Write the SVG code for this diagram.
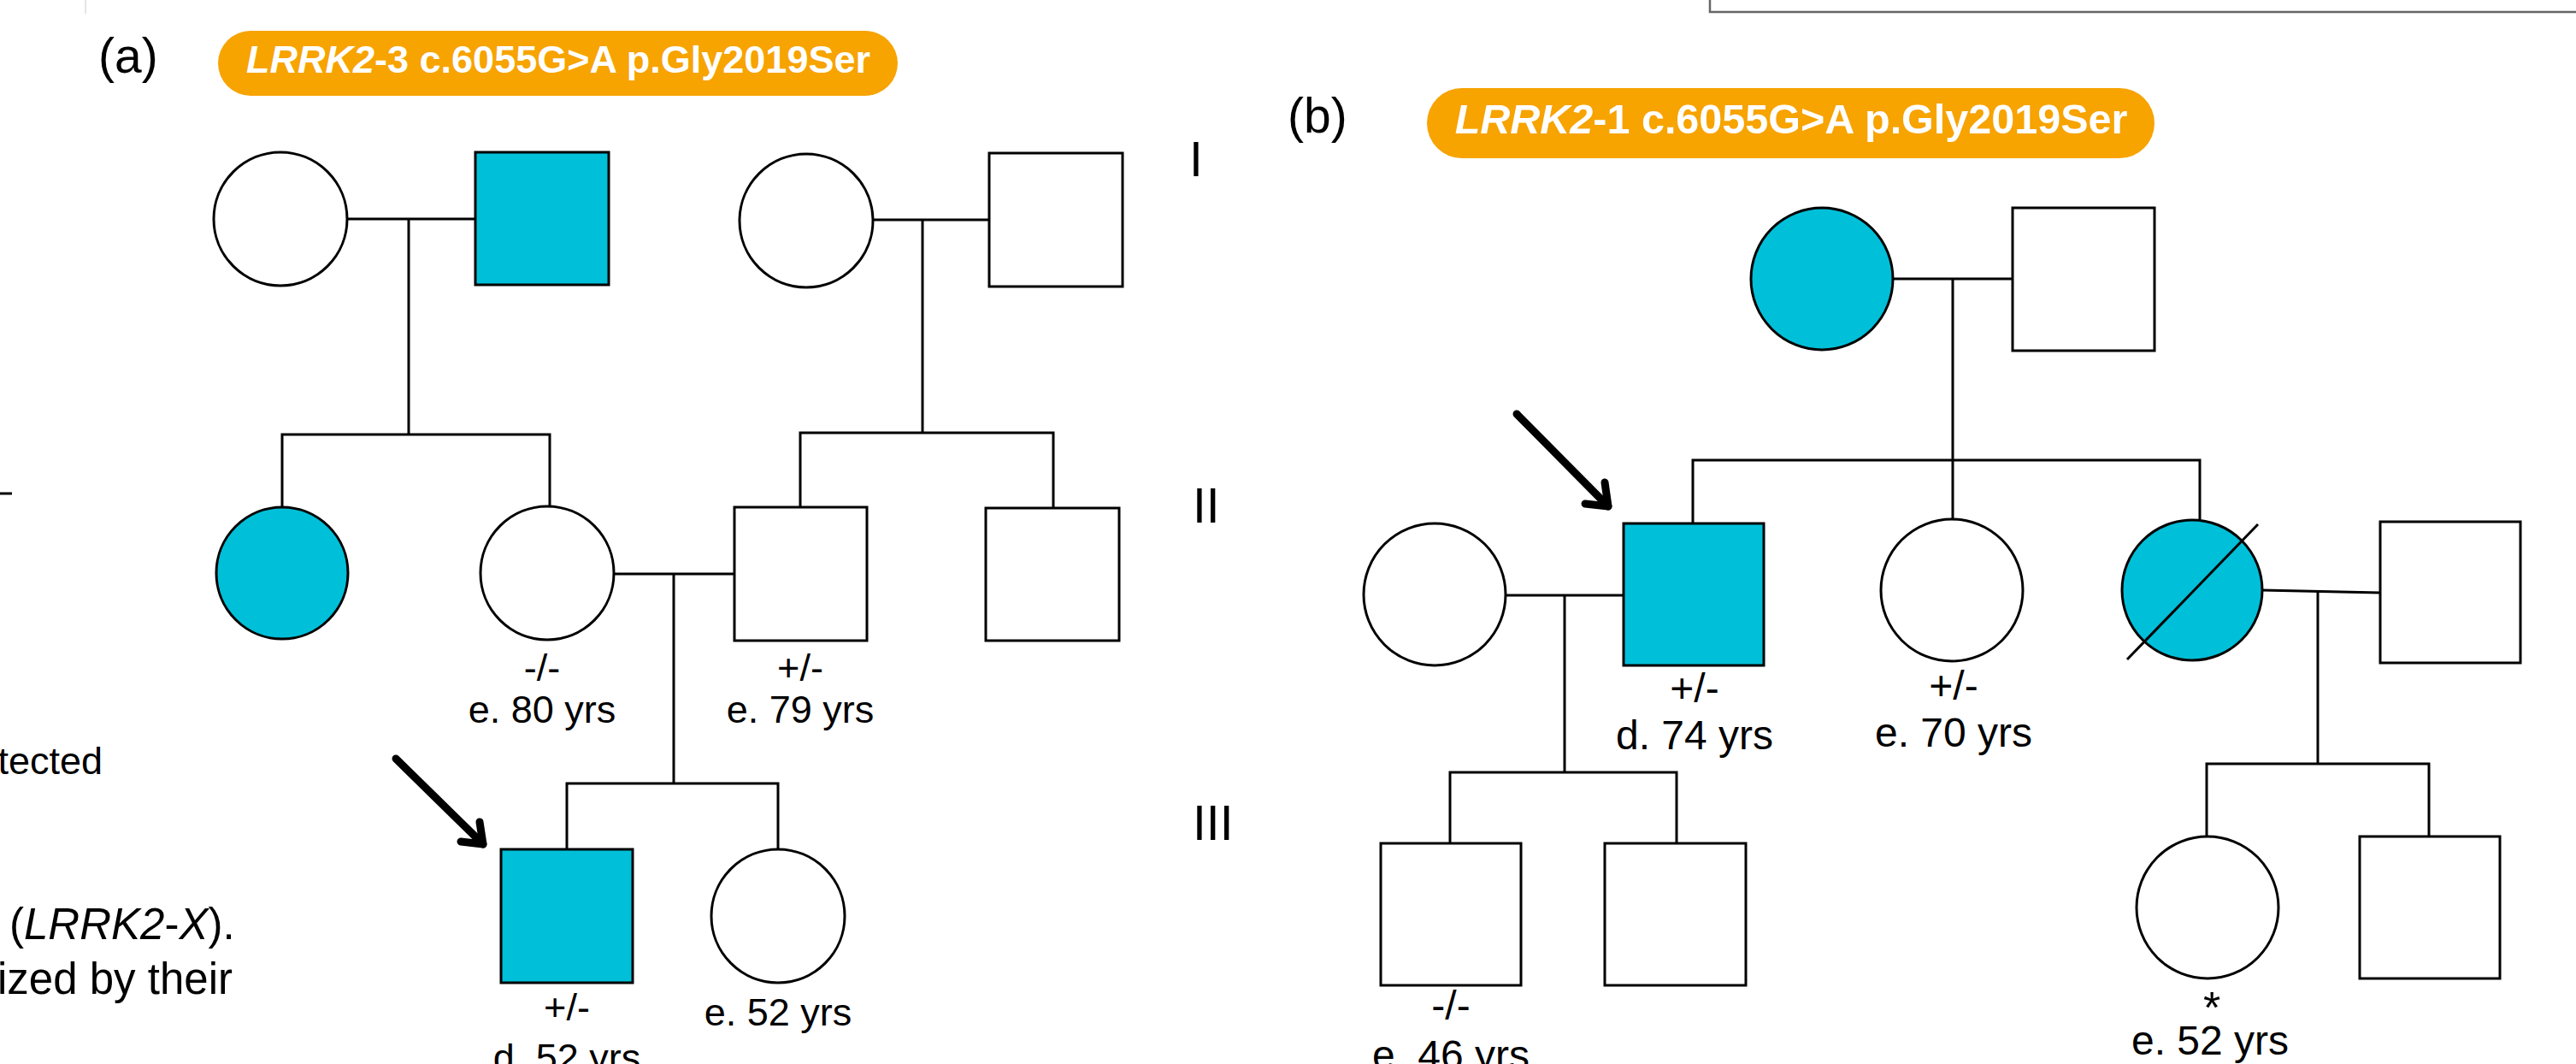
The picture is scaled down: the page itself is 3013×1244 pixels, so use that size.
<svg xmlns="http://www.w3.org/2000/svg" width="3013" height="1244" viewBox="0 0 3013 1244">
<style>
.s{fill:#fff;stroke:#000;stroke-width:3}
.a{fill:#00BFD8;stroke:#000;stroke-width:3}
.ln{fill:none;stroke:#000;stroke-width:3}
.arw{fill:none;stroke:#000;stroke-width:9;stroke-linecap:round;stroke-linejoin:round}
.t{font-family:"Liberation Sans",Arial,sans-serif;fill:#000}
.la{font-size:45px;text-anchor:middle}
.lb{font-size:48px;text-anchor:middle}
.gen{font-size:57px}
.pill{fill:#F7A300}
.pt{font-family:"Liberation Sans",Arial,sans-serif;font-weight:bold;fill:#fff;text-anchor:middle}
</style>
<rect x="0" y="0" width="3013" height="1244" fill="#fff"/>

<!-- page fragments -->
<g id="fragments">
<line x1="100" y1="0" x2="100" y2="16" stroke="#ddd" stroke-width="1.5"/>
<polyline points="2000,0 2000,14 3013,14" fill="none" stroke="#666" stroke-width="2.5"/>
<line x1="0" y1="577" x2="14" y2="577" stroke="#000" stroke-width="3"/>
<text class="t" x="120" y="905" font-size="45" text-anchor="end">tected</text>
<text class="t" x="11" y="1098" font-size="51">(<tspan font-style="italic">LRRK2</tspan>-<tspan font-style="italic">X</tspan>).</text>
<text class="t" x="-3" y="1162" font-size="51">ized by their</text>
</g>

<!-- panel titles -->
<g id="title-a">
<text class="t" x="115" y="85" font-size="57">(a)</text>
<rect class="pill" x="255" y="36" width="795" height="76" rx="38"/>
<text class="pt" x="653" y="85" font-size="45"><tspan font-style="italic">LRRK2</tspan>-3 c.6055G&gt;A p.Gly2019Ser</text>
</g>
<g id="title-b">
<text class="t" x="1506" y="155" font-size="57">(b)</text>
<rect class="pill" x="1669" y="103" width="851" height="82" rx="41"/>
<text class="pt" x="2095" y="156" font-size="48.5"><tspan font-style="italic">LRRK2</tspan>-1 c.6055G&gt;A p.Gly2019Ser</text>
</g>

<g id="generations">
<text class="t gen" x="1391" y="206">I</text>
<text class="t gen" x="1395" y="611">II</text>
<text class="t gen" x="1395" y="982">III</text>
</g>

<!-- connectors -->
<g id="connectors">
<!-- panel a -->
<line class="ln" x1="406" y1="256" x2="556" y2="256"/>
<line class="ln" x1="478" y1="256" x2="478" y2="508"/>
<polyline class="ln" points="330,592 330,508 643,508 643,592"/>
<line class="ln" x1="1021" y1="257" x2="1157" y2="257"/>
<line class="ln" x1="1079" y1="257" x2="1079" y2="506"/>
<polyline class="ln" points="936,593 936,506 1232,506 1232,594"/>
<line class="ln" x1="718" y1="671" x2="859" y2="671"/>
<line class="ln" x1="788" y1="671" x2="788" y2="916"/>
<polyline class="ln" points="663,993 663,916 910,916 910,993"/>
<!-- panel b -->
<line class="ln" x1="2213" y1="326" x2="2354" y2="326"/>
<line class="ln" x1="2284" y1="326" x2="2284" y2="607"/>
<polyline class="ln" points="1980,612 1980,538 2573,538 2573,607"/>
<line class="ln" x1="1761" y1="696" x2="1899" y2="696"/>
<line class="ln" x1="1830" y1="696" x2="1830" y2="903"/>
<polyline class="ln" points="1696,986 1696,903 1961,903 1961,986"/>
<line class="ln" x1="2646" y1="690" x2="2784" y2="693"/>
<line class="ln" x1="2711" y1="691" x2="2711" y2="893"/>
<polyline class="ln" points="2581,978 2581,893 2841,893 2841,978"/>
<!-- proband arrows -->
<line class="arw" x1="463" y1="887" x2="565" y2="987"/>
<polyline class="arw" points="561,961 565,987 539,984"/>
<line class="arw" x1="1774" y1="484" x2="1881" y2="592"/>
<polyline class="arw" points="1877,564 1881,592 1854,589"/>
</g>

<!-- panel a nodes -->
<g id="a-I-1"><circle class="s" cx="328" cy="256" r="78"/></g>
<g id="a-I-2"><rect class="a" x="556" y="178" width="156" height="155"/></g>
<g id="a-I-3"><circle class="s" cx="943" cy="258" r="78"/></g>
<g id="a-I-4"><rect class="s" x="1157" y="179" width="156" height="156"/></g>
<g id="a-II-1"><circle class="a" cx="330" cy="670" r="77"/></g>
<g id="a-II-2"><circle class="s" cx="640" cy="670" r="78"/>
<text class="t la" x="634" y="796">-/-</text><text class="t la" x="634" y="845">e. 80 yrs</text></g>
<g id="a-II-3"><rect class="s" x="859" y="593" width="155" height="156"/>
<text class="t la" x="936" y="796">+/-</text><text class="t la" x="936" y="845">e. 79 yrs</text></g>
<g id="a-II-4"><rect class="s" x="1153" y="594" width="156" height="155"/></g>
<g id="a-III-1"><rect class="a" x="586" y="993" width="154" height="156"/>
<text class="t la" x="663" y="1193">+/-</text><text class="t la" x="663" y="1252">d. 52 yrs</text></g>
<g id="a-III-2"><circle class="s" cx="910" cy="1071" r="78"/>
<text class="t la" x="910" y="1199">e. 52 yrs</text></g>

<!-- panel b nodes -->
<g id="b-I-1"><circle class="a" cx="2131" cy="326" r="83"/></g>
<g id="b-I-2"><rect class="s" x="2354" y="243" width="166" height="167"/></g>
<g id="b-II-1"><circle class="s" cx="1678" cy="695" r="83"/></g>
<g id="b-II-2"><rect class="a" x="1899" y="612" width="164" height="166"/>
<text class="t lb" x="1982" y="821">+/-</text><text class="t lb" x="1982" y="876">d. 74 yrs</text></g>
<g id="b-II-3"><circle class="s" cx="2283" cy="690" r="83"/>
<text class="t lb" x="2285" y="818">+/-</text><text class="t lb" x="2285" y="873">e. 70 yrs</text></g>
<g id="b-II-4"><circle class="a" cx="2564" cy="690" r="82"/>
<line class="ln" x1="2488" y1="771" x2="2641" y2="613"/></g>
<g id="b-II-5"><rect class="s" x="2784" y="610" width="164" height="165"/></g>
<g id="b-III-1"><rect class="s" x="1615" y="986" width="164" height="166"/>
<text class="t lb" x="1697" y="1192">-/-</text><text class="t lb" x="1697" y="1250">e. 46 yrs</text></g>
<g id="b-III-2"><rect class="s" x="1877" y="986" width="165" height="166"/></g>
<g id="b-III-3"><circle class="s" cx="2582" cy="1061" r="83"/>
<text class="t" x="2587" y="1196" font-size="52" text-anchor="middle">*</text><text class="t lb" x="2585" y="1233">e. 52 yrs</text></g>
<g id="b-III-4"><rect class="s" x="2760" y="978" width="164" height="166"/></g>
</svg>
